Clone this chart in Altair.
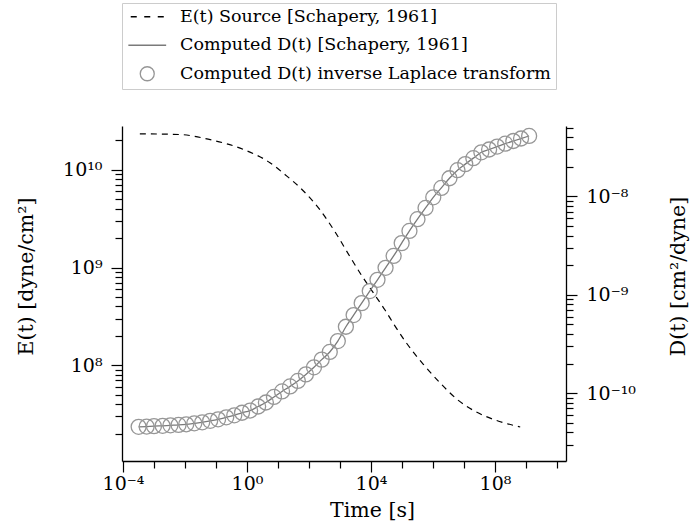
import altair as alt
import pandas as pd

# ---------------- data ----------------
series_names = [
    "E(t) Source [Schapery, 1961]",
    "Computed D(t) [Schapery, 1961]",
    "Computed D(t) inverse Laplace transform",
]

t_E = [3.5e-4, 6.9e-3, 6.5e-2, 0.74, 5.5, 17, 65, 224, 690, 2.1e3, 5.1e3, 1.15e4,
       2.8e4, 5.9e4, 1.45e5, 4.8e5, 1.7e6, 5.9e6, 2.2e7, 1.0e8, 6.5e8]
E_vals = [2.33e10, 2.29e10, 2.03e10, 1.62e10, 1.18e10, 8.9e9, 6.1e9, 3.9e9, 2.32e9,
          1.29e9, 8.2e8, 5.6e8, 3.7e8, 2.53e8, 1.66e8, 1.03e8, 6.6e7, 4.5e7, 3.4e7,
          2.76e7, 2.34e7]

t_D = [3.2e-4, 5.8e-4, 1.0e-3, 1.9e-3, 3.4e-3, 6.2e-3, 1.1e-2, 2.0e-2, 3.6e-2, 6.5e-2,
       0.117, 0.214, 0.389, 0.692, 1.26, 2.29, 4.07, 7.41, 13.5, 24.5,
       43.7, 79.4, 145, 257, 468, 851, 1.55e3, 2.75e3, 5.01e3, 9.12e3,
       1.62e4, 2.95e4, 5.37e4, 9.77e4, 1.74e5, 3.16e5, 5.75e5, 1.02e6, 1.86e6, 3.39e6,
       6.17e6, 1.10e7, 2.00e7, 3.63e7, 6.46e7, 1.17e8, 2.14e8, 3.89e8, 6.92e8, 1.26e9]
D_vals = [4.54e-11, 4.57e-11, 4.61e-11, 4.65e-11, 4.70e-11, 4.75e-11, 4.82e-11, 4.93e-11,
          5.05e-11, 5.23e-11, 5.41e-11, 5.67e-11, 5.94e-11, 6.31e-11, 6.65e-11, 7.31e-11,
          8.03e-11, 9.14e-11, 1.04e-10, 1.17e-10, 1.33e-10, 1.55e-10, 1.83e-10, 2.19e-10,
          2.62e-10, 3.38e-10, 4.73e-10, 6.21e-10, 8.22e-10, 1.09e-9, 1.42e-9, 1.88e-9,
          2.48e-9, 3.35e-9, 4.46e-9, 5.87e-9, 7.64e-9, 9.79e-9, 1.22e-8, 1.53e-8,
          1.85e-8, 2.13e-8, 2.45e-8, 2.81e-8, 3.00e-8, 3.21e-8, 3.44e-8, 3.66e-8,
          3.88e-8, 4.12e-8]

x_major = [1e-4, 1e0, 1e4, 1e8]
x_major_labels = ["10⁻⁴", "10⁰", "10⁴", "10⁸"]
x_minor = [1e-3, 1e-2, 1e-1, 1e1, 1e2, 1e3, 1e5, 1e6, 1e7, 1e9, 1e10]

yl_major = [1e8, 1e9, 1e10]
yl_major_labels = ["10⁸", "10⁹", "10¹⁰"]
yr_major = [1e-10, 1e-9, 1e-8]
yr_major_labels = ["10⁻¹⁰", "10⁻⁹", "10⁻⁸"]

x_domain = [9.3e-5, 1.95e10]
yl_domain = [1.05e7, 2.8e10]
yr_domain = [2.04e-11, 5.2e-8]

FONT = "DejaVu Serif"

# ---------------- helpers ----------------
def minor_ticks(lo, hi):
    out = []
    for e in range(-14, 14):
        for m in range(1, 10):
            v = m * 10.0 ** e
            if lo <= v <= hi:
                out.append(v)
    return out

def is_major_test(majors):
    return " || ".join(f"abs(datum.value/{v:g}-1)<1e-6" for v in majors)

def label_expr(majors, labels):
    s = "''"
    for v, l in reversed(list(zip(majors, labels))):
        s = f"(abs(datum.value/{v:g}-1)<1e-6 ? '{l}' : {s})"
    return s

def tick_size(majors):
    return {"condition": {"test": is_major_test(majors), "value": 11}, "value": 7}

dfE = pd.DataFrame({"t": t_E, "v": E_vals, "s": series_names[0]})
dfL = pd.DataFrame({"t": t_D, "v": D_vals, "s": series_names[1]})
dfP = pd.DataFrame({"t": t_D, "v": D_vals, "s": series_names[2]})

x_enc = alt.X(
    "t:Q",
    scale=alt.Scale(type="log", domain=x_domain, nice=False),
    axis=alt.Axis(
        values=sorted(x_major + x_minor),
        labelExpr=label_expr(x_major, x_major_labels),
        tickSize=tick_size(x_major),
        labelOverlap=False, labelFlush=False, labelPadding=2,
        title="Time [s]", titleX=250, titleY=49,
        titleAlign="center", titleBaseline="middle",
    ),
)

color_scale = alt.Scale(domain=series_names, range=["#000000", "#7a7a7a", "#969696"])
shape_scale = alt.Scale(
    domain=series_names,
    range=["M-2.36,0H-1.5M-0.43,0H0.43M1.5,0H2.36", "M-2.7,0H2.7", "circle"],
)
legend = alt.Legend(
    title=None, orient="none", legendX=0, legendY=-123,
    labelFont=FONT, labelFontSize=17.5, labelColor="black", labelLimit=0,
    symbolSize=196, symbolStrokeWidth=1.3, symbolOffset=11.5, labelOffset=24,
    padding=5, rowPadding=9.5, strokeColor="#cccccc", fillColor="white",
)

yl_enc = alt.Y(
    "v:Q",
    scale=alt.Scale(type="log", domain=yl_domain, nice=False),
    axis=alt.Axis(
        orient="left",
        values=minor_ticks(*yl_domain),
        labelExpr=label_expr(yl_major, yl_major_labels),
        tickSize=tick_size(yl_major),
        labelOverlap=False, labelFlush=False, labelPadding=9,
        title="E(t) [dyne/cm²]", titleAngle=270, titleX=-96, titleY=150,
        titleAlign="center", titleBaseline="middle",
    ),
)
yr_enc = alt.Y(
    "v:Q",
    scale=alt.Scale(type="log", domain=yr_domain, nice=False),
    axis=alt.Axis(
        orient="right",
        values=minor_ticks(*yr_domain),
        labelExpr=label_expr(yr_major, yr_major_labels),
        tickSize=tick_size(yr_major),
        labelOverlap=False, labelFlush=False, labelPadding=9,
        title="D(t) [cm²/dyne]", titleAngle=270, titleX=112, titleY=150,
        titleAlign="center", titleBaseline="middle",
    ),
)

color_enc = alt.Color("s:N", scale=color_scale, legend=legend)

e_line = alt.Chart(dfE).mark_line(strokeDash=[6, 5], strokeWidth=1.2, interpolate="monotone").encode(
    x=x_enc, y=yl_enc, color=color_enc,
)
d_line = alt.Chart(dfL).mark_line(strokeWidth=1.3, interpolate="monotone").encode(
    x=x_enc, y=yr_enc, color=color_enc,
)
d_pts = alt.Chart(dfP).mark_point(filled=False, size=225, strokeWidth=1.3, opacity=1).encode(
    x=x_enc, y=yr_enc, color=color_enc,
    shape=alt.Shape("s:N", scale=shape_scale, legend=legend),
)

right = alt.layer(d_line, d_pts)
chart = alt.layer(e_line, right).resolve_scale(y="independent").properties(
    width=444, height=335, background="white",
    autosize=alt.AutoSizeParams(type="none"),
    padding={"left": 122, "top": 126, "right": 125, "bottom": 65},
).configure_view(stroke=None).configure_axis(
    grid=False, domainColor="black", domainWidth=1.3, tickColor="black", tickWidth=1.2,
    labelFont=FONT, labelFontSize=19, labelColor="black",
    titleFont=FONT, titleFontSize=20.5, titleColor="black", titleFontWeight="normal",
)

chart.save("out.html", embed_options={"renderer": "svg", "actions": False})
